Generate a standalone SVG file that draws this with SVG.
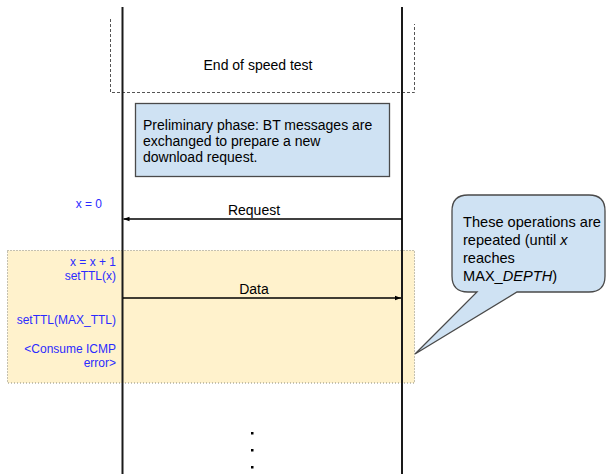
<svg xmlns="http://www.w3.org/2000/svg" width="607" height="474" viewBox="0 0 607 474">
<defs>
<style>
text{font-family:"Liberation Sans",Arial,sans-serif;fill:#000}
.lbl{font-size:12px;fill:#2b2bff;text-anchor:end}
.msg{font-size:14px;text-anchor:middle}
.life{stroke:#1a1a1a;stroke-width:2;fill:none}
.arr{stroke:#000;stroke-width:1.3;fill:none}
.co{font-size:14.6px}
</style>
<marker id="ah" viewBox="0 0 6 6" refX="6" refY="3" markerWidth="6" markerHeight="6" markerUnits="userSpaceOnUse" orient="auto">
<path d="M0,0.8 L6,3 L0,5.2 Z" fill="#000"/>
</marker>
</defs>
<rect width="607" height="474" fill="#fff"/>
<g id="loop-region">
<rect x="7.5" y="250.5" width="407" height="132.5" fill="#fff2cc" stroke="#8a8a7a" stroke-width="1" stroke-dasharray="1,2"/>
</g>
<g id="end-speed-test">
<path d="M110.5,19 V92.5 H414.5 V24" fill="none" stroke="#555" stroke-width="1" stroke-dasharray="3,2"/>
<text x="258" y="70" font-size="14" text-anchor="middle">End of speed test</text>
</g>
<g id="lifelines">
<line class="life" x1="122.5" y1="7" x2="122.5" y2="474"/>
<line class="life" x1="402" y1="7" x2="402" y2="474"/>
</g>
<g id="preliminary">
<rect x="135.5" y="103.5" width="254" height="73" fill="#cfe2f3" stroke="#4a4a4a" stroke-width="1.3"/>
<text x="143" y="130" font-size="14">Preliminary phase: BT messages are</text>
<text x="143" y="146" font-size="14">exchanged to prepare a new</text>
<text x="143" y="162" font-size="14">download request.</text>
</g>
<g id="connectors">
<line class="arr" x1="402" y1="219" x2="123.5" y2="219" marker-end="url(#ah)"/>
<text class="msg" x="254" y="215">Request</text>
<line class="arr" x1="123" y1="298" x2="401" y2="298" marker-end="url(#ah)"/>
<text class="msg" x="254" y="294">Data</text>
</g>
<g id="labels">
<text class="lbl" x="102" y="208">x = 0</text>
<text class="lbl" x="116" y="266">x = x + 1</text>
<text class="lbl" x="116" y="280">setTTL(x)</text>
<text class="lbl" x="116" y="324">setTTL(MAX_TTL)</text>
<text class="lbl" x="116" y="353">&lt;Consume ICMP</text>
<text class="lbl" x="116" y="367">error&gt;</text>
</g>
<g id="callout">
<path d="M468,195 H589 Q605,195 605,211 V276 Q605,292 589,292 H517 L415,354 L477,292 H468 Q452,292 452,276 V211 Q452,195 468,195 Z" fill="#cfe2f3" stroke="#4a4a4a" stroke-width="1.3"/>
<text class="co" x="463" y="227">These operations are</text>
<text class="co" x="463" y="245">repeated (until <tspan font-style="italic">x</tspan></text>
<text class="co" x="463" y="263">reaches</text>
<text class="co" x="463" y="281">MAX_<tspan font-style="italic">DEPTH</tspan>)</text>
</g>
<g id="ellipsis">
<rect x="251" y="432" width="2.5" height="2.5" fill="#000"/>
<rect x="251" y="449" width="2.5" height="2.5" fill="#000"/>
<rect x="251" y="466" width="2.5" height="2.5" fill="#000"/>
</g>
</svg>
